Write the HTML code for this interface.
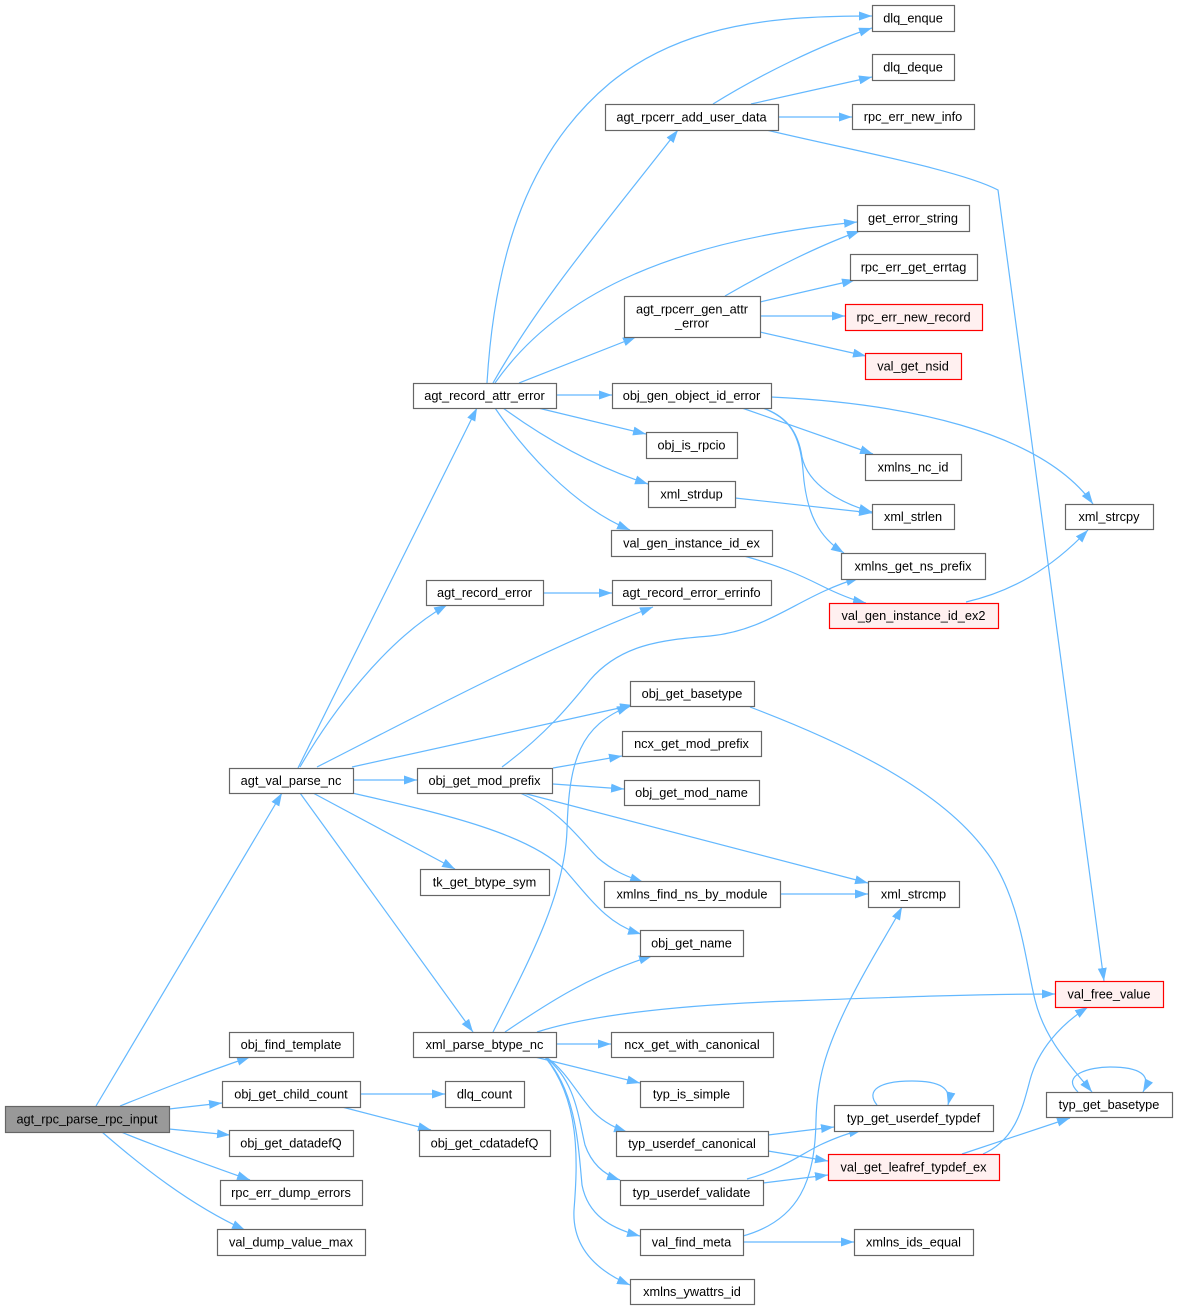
<!DOCTYPE html>
<html><head><meta charset="utf-8"><style>
html,body{margin:0;padding:0;background:#fff;}
svg{display:block;}
.n{fill:#fff;stroke:#666;stroke-width:1.2;}
.r{fill:#fff0f0;stroke:#ff0000;stroke-width:1.2;}
.g{fill:#999;stroke:#666;stroke-width:1.2;}
text{font-family:"Liberation Sans",Arial,sans-serif;font-size:12.75px;fill:#000;text-anchor:middle;}
.e{fill:none;stroke:#63b8ff;stroke-width:1.2;marker-end:url(#a);}
</style></head><body>
<svg width="1177" height="1309" viewBox="0 0 1177 1309" xmlns="http://www.w3.org/2000/svg">
<defs><marker id="a" markerUnits="userSpaceOnUse" markerWidth="14" markerHeight="10" refX="13" refY="4.5" orient="auto"><path d="M0,0 L13,4.5 L0,9 Z" fill="#63b8ff"/></marker></defs>
<g>
<!-- from agt_rpc_parse_rpc_input -->
<path class="e" d="M96,1106 L282,793"/>
<path class="e" d="M120,1106 C160,1090 200,1074 250,1057"/>
<path class="e" d="M169,1109 L222,1103"/>
<path class="e" d="M169,1129 L230,1135"/>
<path class="e" d="M121,1132 C160,1148 205,1164 250,1180"/>
<path class="e" d="M102,1132 C140,1165 190,1205 245,1230"/>
<!-- from agt_val_parse_nc -->
<path class="e" d="M298,768 L477,408"/>
<path class="e" d="M300,767 C330,715 385,640 447,605"/>
<path class="e" d="M317,767 C400,725 540,650 653,607"/>
<path class="e" d="M352,767 L633,705"/>
<path class="e" d="M353,780 L417,780"/>
<path class="e" d="M313,793 L455,869"/>
<path class="e" d="M352,793 C450,815 530,835 565,870 C595,905 610,925 641,934"/>
<path class="e" d="M300,793 L473,1032"/>
<!-- from agt_record_attr_error -->
<path class="e" d="M487,383 C495,250 530,150 610,83 C685,22 780,16 872,16"/>
<path class="e" d="M493,383 C540,300 600,230 678,130"/>
<path class="e" d="M495,383 C560,290 680,240 857,222"/>
<path class="e" d="M519,383 L636,337"/>
<path class="e" d="M556,395 L612,395"/>
<path class="e" d="M538,408 L646,434"/>
<path class="e" d="M503,408 C540,435 590,465 648,484"/>
<path class="e" d="M495,408 C520,445 570,505 630,530"/>
<!-- agt_rpcerr_add_user_data -->
<path class="e" d="M713,104 C760,75 820,45 872,28"/>
<path class="e" d="M751,104 L872,77"/>
<path class="e" d="M778,117 L852,117"/>
<path class="e" d="M762,129 C850,150 960,170 998,190 L1104,981"/>
<!-- agt_rpcerr_gen_attr_error -->
<path class="e" d="M725,296 C770,270 820,245 860,231"/>
<path class="e" d="M760,302 L855,280"/>
<path class="e" d="M760,316 L845,316"/>
<path class="e" d="M760,332 L866,356"/>
<!-- obj_gen_object_id_error -->
<path class="e" d="M771,397 C900,403 1040,430 1093,504"/>
<path class="e" d="M742,408 L873,454"/>
<path class="e" d="M760,407 C785,415 798,430 802,457 C808,485 840,503 872,512"/>
<path class="e" d="M760,407 C790,417 800,435 803,470 C806,515 820,538 844,553"/>
<!-- misc -->
<path class="e" d="M735,498 L872,513"/>
<path class="e" d="M744,556 C780,566 800,575 820,585 C838,594 852,600 866,603"/>
<path class="e" d="M966,602 C1010,592 1050,570 1088,530"/>
<path class="e" d="M543,593 L612,593"/>
<!-- obj_get_mod_prefix -->
<path class="e" d="M502,767 C545,735 570,705 590,680 C620,645 660,640 710,636 C770,630 800,595 859,578"/>
<path class="e" d="M553,768 L622,756"/>
<path class="e" d="M553,784 L624,789"/>
<path class="e" d="M523,793 L868,883"/>
<path class="e" d="M520,793 C560,810 580,840 598,858 C612,870 625,876 643,882"/>
<!-- xml_parse_btype_nc -->
<path class="e" d="M493,1032 C535,950 565,890 567,830 C569,760 580,725 630,706"/>
<path class="e" d="M505,1032 C545,1005 590,975 652,956"/>
<path class="e" d="M537,1032 C590,1015 680,1005 790,1001 C900,997 980,994 1055,994"/>
<path class="e" d="M556,1044 L611,1044"/>
<path class="e" d="M535,1057 L640,1083"/>
<path class="e" d="M546,1057 C565,1070 575,1090 590,1108 C600,1120 612,1127 627,1132"/>
<path class="e" d="M545,1057 C575,1080 578,1115 585,1145 C592,1165 605,1175 620,1180"/>
<path class="e" d="M545,1057 C575,1090 578,1140 582,1185 C588,1215 610,1228 640,1236"/>
<path class="e" d="M545,1057 C580,1100 578,1160 574,1210 C572,1250 600,1272 630,1285"/>
<!-- typ_userdef_* -->
<path class="e" d="M768,1135 L834,1127"/>
<path class="e" d="M768,1151 L828,1161"/>
<path class="e" d="M747,1179 C780,1170 800,1155 820,1145 C835,1138 848,1133 862,1130"/>
<path class="e" d="M763,1183 L828,1175"/>
<!-- val_find_meta -->
<path class="e" d="M743,1236 C800,1220 815,1180 816,1120 C817,1080 825,1050 850,1000 C870,960 890,930 902,907"/>
<path class="e" d="M743,1242 L854,1242"/>
<!-- self loops -->
<path class="e" d="M877,1105 C865,1090 880,1081 912,1081 C940,1081 952,1088 948,1105"/>
<path class="e" d="M1078,1092 C1060,1075 1090,1067 1110,1067 C1140,1067 1152,1075 1143,1092"/>
<!-- val_get_leafref_typdef_ex -->
<path class="e" d="M983,1154 C1015,1140 1022,1110 1030,1080 C1038,1050 1060,1025 1088,1007"/>
<path class="e" d="M962,1154 L1070,1118"/>
<!-- obj_get_basetype -> typ_get_basetype -->
<path class="e" d="M750,707 C850,745 940,790 985,850 C1020,895 1025,960 1035,1000 C1045,1040 1070,1065 1092,1092"/>
<path class="e" d="M780,894 L868,894"/>
<!-- obj_get_child_count -->
<path class="e" d="M360,1094 L445,1094"/>
<path class="e" d="M342,1107 L431,1130"/>
</g>
<g>
<rect class="g" x="5.5" y="1106.5" width="164" height="26"/><text x="87" y="1123.5">agt_rpc_parse_rpc_input</text>
<rect class="n" x="229.5" y="768.5" width="124" height="25"/><text x="291" y="785">agt_val_parse_nc</text>
<rect class="n" x="229.5" y="1032.5" width="124" height="25"/><text x="291" y="1049">obj_find_template</text>
<rect class="n" x="222.5" y="1081.5" width="138" height="26"/><text x="291" y="1098.5">obj_get_child_count</text>
<rect class="n" x="229.5" y="1130.5" width="124" height="26"/><text x="291" y="1147.5">obj_get_datadefQ</text>
<rect class="n" x="220.5" y="1180.5" width="142" height="25"/><text x="291" y="1197">rpc_err_dump_errors</text>
<rect class="n" x="217.5" y="1229.5" width="148" height="26"/><text x="291" y="1246.5">val_dump_value_max</text>
<rect class="n" x="413.5" y="383.5" width="143" height="25"/><text x="484.5" y="400">agt_record_attr_error</text>
<rect class="n" x="426.5" y="580.5" width="117" height="25"/><text x="484.5" y="597">agt_record_error</text>
<rect class="n" x="417.5" y="768.5" width="135" height="25"/><text x="484.5" y="785">obj_get_mod_prefix</text>
<rect class="n" x="420.5" y="869.5" width="129" height="26"/><text x="484.5" y="886.5">tk_get_btype_sym</text>
<rect class="n" x="413.5" y="1032.5" width="143" height="25"/><text x="484.5" y="1049">xml_parse_btype_nc</text>
<rect class="n" x="445.5" y="1081.5" width="79" height="26"/><text x="484.5" y="1098.5">dlq_count</text>
<rect class="n" x="419.5" y="1130.5" width="131" height="26"/><text x="484.5" y="1147.5">obj_get_cdatadefQ</text>
<rect class="n" x="605.5" y="104.5" width="173" height="26"/><text x="691.5" y="121.5">agt_rpcerr_add_user_data</text>
<rect class="n" x="624.5" y="296.5" width="136" height="41"/><text x="692" y="313.5">agt_rpcerr_gen_attr</text><text x="692" y="327.5">_error</text>
<rect class="n" x="612.5" y="383.5" width="159" height="25"/><text x="691.5" y="400">obj_gen_object_id_error</text>
<rect class="n" x="646.5" y="432.5" width="91" height="26"/><text x="691.5" y="449.5">obj_is_rpcio</text>
<rect class="n" x="648.5" y="481.5" width="87" height="26"/><text x="691.5" y="498.5">xml_strdup</text>
<rect class="n" x="611.5" y="530.5" width="161" height="26"/><text x="691.5" y="547.5">val_gen_instance_id_ex</text>
<rect class="n" x="612.5" y="580.5" width="159" height="25"/><text x="691.5" y="597">agt_record_error_errinfo</text>
<rect class="n" x="630.5" y="681.5" width="124" height="25"/><text x="692" y="698">obj_get_basetype</text>
<rect class="n" x="622.5" y="731.5" width="139" height="25"/><text x="691.5" y="748">ncx_get_mod_prefix</text>
<rect class="n" x="624.5" y="780.5" width="135" height="25"/><text x="691.5" y="797">obj_get_mod_name</text>
<rect class="n" x="604.5" y="881.5" width="176" height="26"/><text x="692" y="898.5">xmlns_find_ns_by_module</text>
<rect class="n" x="640.5" y="930.5" width="103" height="26"/><text x="691.5" y="947.5">obj_get_name</text>
<rect class="n" x="611.5" y="1032.5" width="162" height="25"/><text x="692" y="1049">ncx_get_with_canonical</text>
<rect class="n" x="640.5" y="1081.5" width="103" height="26"/><text x="691.5" y="1098.5">typ_is_simple</text>
<rect class="n" x="616.5" y="1131.5" width="152" height="25"/><text x="692" y="1148">typ_userdef_canonical</text>
<rect class="n" x="620.5" y="1180.5" width="143" height="25"/><text x="691.5" y="1197">typ_userdef_validate</text>
<rect class="n" x="640.5" y="1229.5" width="103" height="26"/><text x="691.5" y="1246.5">val_find_meta</text>
<rect class="n" x="630.5" y="1279.5" width="124" height="25"/><text x="692" y="1296">xmlns_ywattrs_id</text>
<rect class="n" x="872.5" y="5.5" width="82" height="26"/><text x="913" y="22.5">dlq_enque</text>
<rect class="n" x="872.5" y="54.5" width="82" height="26"/><text x="913" y="71.5">dlq_deque</text>
<rect class="n" x="852.5" y="104.5" width="122" height="25"/><text x="913" y="121">rpc_err_new_info</text>
<rect class="n" x="857.5" y="205.5" width="112" height="26"/><text x="913" y="222.5">get_error_string</text>
<rect class="n" x="850.5" y="254.5" width="127" height="26"/><text x="913.5" y="271.5">rpc_err_get_errtag</text>
<rect class="r" x="845.5" y="304.5" width="137" height="26"/><text x="913.5" y="321.5">rpc_err_new_record</text>
<rect class="r" x="865.5" y="353.5" width="96" height="26"/><text x="913" y="370.5">val_get_nsid</text>
<rect class="n" x="865.5" y="454.5" width="96" height="26"/><text x="913" y="471.5">xmlns_nc_id</text>
<rect class="n" x="872.5" y="504.5" width="82" height="25"/><text x="913" y="521">xml_strlen</text>
<rect class="n" x="841.5" y="553.5" width="144" height="26"/><text x="913" y="570.5">xmlns_get_ns_prefix</text>
<rect class="r" x="829.5" y="603.5" width="169" height="25"/><text x="913.5" y="620">val_gen_instance_id_ex2</text>
<rect class="n" x="868.5" y="881.5" width="91" height="26"/><text x="913.5" y="898.5">xml_strcmp</text>
<rect class="n" x="834.5" y="1105.5" width="159" height="26"/><text x="913.5" y="1122.5">typ_get_userdef_typdef</text>
<rect class="r" x="828.5" y="1154.5" width="171" height="26"/><text x="913.5" y="1171.5">val_get_leafref_typdef_ex</text>
<rect class="n" x="854.5" y="1229.5" width="119" height="26"/><text x="913.5" y="1246.5">xmlns_ids_equal</text>
<rect class="n" x="1065.5" y="504.5" width="88" height="25"/><text x="1109" y="521">xml_strcpy</text>
<rect class="r" x="1055.5" y="981.5" width="108" height="26"/><text x="1109" y="998.5">val_free_value</text>
<rect class="n" x="1046.5" y="1092.5" width="126" height="25"/><text x="1109" y="1109">typ_get_basetype</text>
</g>
</svg>
</body></html>
